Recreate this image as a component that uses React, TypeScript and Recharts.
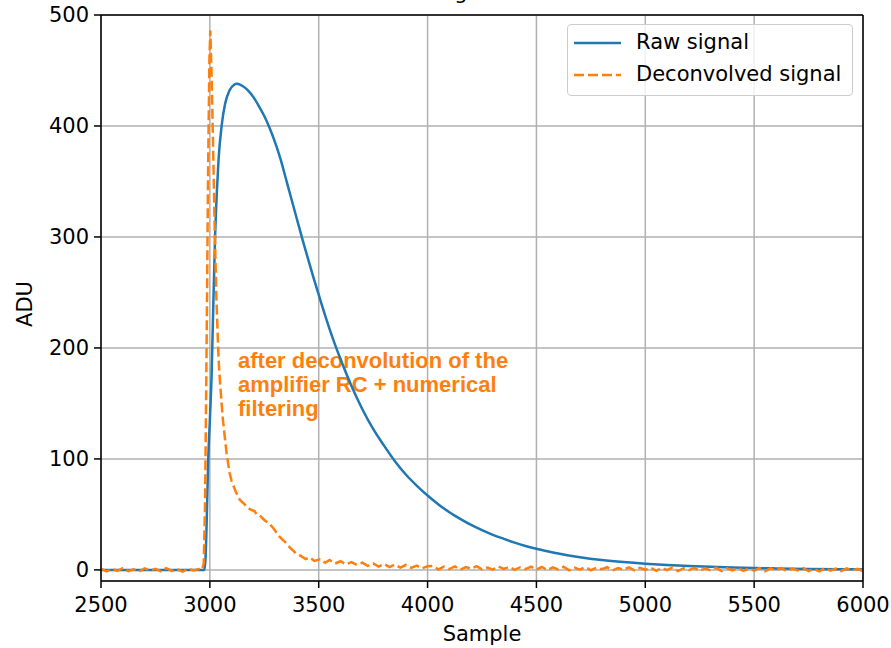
import React from 'react';
import { LineChart, Line, XAxis, YAxis, CartesianGrid, Legend, ReferenceLine } from 'recharts';

const xTicks = [2500, 3000, 3500, 4000, 4500, 5000, 5500, 6000];
const yTicks = [0, 100, 200, 300, 400, 500];

const rawSamples = [
  2500, 2975, 2980, 2985, 2992, 3000, 3008, 3016, 3024, 3032, 3040, 3054, 3070, 3090, 3110, 3125,
  3150, 3175, 3200, 3225, 3250, 3275, 3300, 3325, 3350, 3375, 3400, 3425, 3450, 3475, 3500,
  3525, 3550, 3575, 3600, 3650, 3700, 3750, 3800, 3850, 3900, 3950, 4000, 4050, 4100, 4150, 4200,
  4250, 4300, 4350, 4400, 4450, 4500, 4550, 4600, 4700, 4800, 4900, 5000, 5100, 5200, 5300, 5400, 5500,
  5600, 5750, 5900, 6000,
];
const rawValues = [
  0, 0, 10, 40, 96, 135, 175, 240, 300, 340, 370, 400, 420, 432, 437, 438,
  436, 432, 426, 418, 409, 398, 385, 370, 352, 334, 316, 298, 281, 264, 248,
  232, 217, 203, 190, 166, 145, 127, 112, 98, 86, 76, 67, 59, 52, 46, 40.5,
  35.8, 31.6, 28, 24.6, 21.6, 19, 16.8, 14.8, 11.5, 9, 7.1, 5.6, 4.4, 3.5, 2.75, 2.15, 1.7,
  1.35, 0.9, 0.6, 0.45,
];

const deconvSamples = [
  2500, 2525, 2550, 2575, 2600, 2625, 2650, 2675, 2700, 2725, 2750, 2775, 2800, 2825, 2850, 2875, 2900, 2925, 2950,
  2965, 2972, 2978, 2985, 2992, 2998, 3002, 3008, 3015, 3022,
  3030, 3040, 3047, 3060, 3077, 3090, 3100, 3120, 3138, 3160,
  3175, 3190, 3205, 3215, 3230, 3250, 3270, 3290, 3305, 3320,
  3335, 3352, 3368, 3385, 3400, 3414, 3440, 3460, 3480, 3506,
  3530, 3550, 3575, 3600, 3625, 3650, 3675, 3700, 3725, 3750,
  3775, 3800, 3825, 3850, 3875, 3900, 3925, 3950, 3975, 4000,
  4025, 4050, 4075, 4100, 4125, 4150, 4175, 4200, 4225, 4250, 4275, 4300, 4325, 4350, 4375, 4400, 4425, 4450, 4475, 4500,
  4525, 4550, 4575, 4600, 4625, 4650, 4675, 4700, 4725, 4750, 4775, 4800, 4825, 4850, 4875, 4900, 4925, 4950, 4975, 5000,
  5025, 5050, 5075, 5100, 5125, 5150, 5175, 5200, 5225, 5250, 5275, 5300, 5325, 5350, 5375, 5400, 5425, 5450, 5475, 5500,
  5525, 5550, 5575, 5600, 5625, 5650, 5675, 5700, 5725, 5750, 5775, 5800, 5825, 5850, 5875, 5900, 5925, 5950, 5975, 6000,
];
const deconvValues = [
  1.2, -1.4, 0.9, -0.8, 1.6, -1.1, 0.5, -1.5, 1.3, -0.6, 1.0, -1.3, 1.5, -0.9, 0.7, -1.6, 1.1, -0.4, 0.8,
  0.3, 6, 60, 200, 360, 460, 486, 445, 380, 310,
  245, 190, 168, 135, 105, 88, 80, 70, 63, 59,
  56, 54, 53, 50, 49, 45, 42, 38, 34, 30,
  27, 24, 20, 17, 14, 13, 9.8, 11.2, 8.1, 9.6,
  6.4, 8.9, 5.7, 7.8, 5.0, 7.1, 4.6, 6.5, 3.6, 5.9,
  3.0, 5.4, 2.6, 4.9, 2.0, 4.4, 1.8, 3.9, 1.4, 3.3,
  3.5, 0.4, 2.9, 0.8, 3.2, 0.2, 2.6, 1.1, 3.4, 0.5, 2.2, 0.3, 3.1, 0.9, 2.7, 0.1, 2.4, 0.6, 2.9, 0.3,
  2.6, -0.2, 2.3, 0.5, 2.8, -0.4, 2.0, 0.3, 2.5, -0.3, 1.9, 0.6, 2.4, -0.5, 1.7, 0.2, 2.2, -0.4, 1.8, 0.1,
  2.1, -0.9, 1.8, -0.3, 2.2, -1.0, 1.5, -0.2, 1.9, -0.8, 1.3, -0.5, 2.0, -1.1, 1.4, -0.4, 1.7, -0.9, 1.2, -0.6,
  1.6, -1.2, 1.3, -0.6, 1.8, -1.3, 1.1, -0.4, 1.5, -1.0, 0.9, -1.4, 1.6, -0.7, 1.2, -1.1, 1.4, -0.5, 1.0, -1.2,
];

const seriesNames = ['Raw signal', 'Deconvolved signal'];
const seriesColors = ['#1f77b4', '#ff7f0e'];
const annotationLines = ['after deconvolution of the', 'amplifier RC + numerical', 'filtering'];
const titleText = 'Signal';

const rawData = rawSamples.map((x, i) => ({ x, y: rawValues[i] }));
const deconvData = deconvSamples.map((x, i) => ({ x, y: deconvValues[i] }));

const FONT = '"DejaVu Sans", sans-serif';
const FS = 21;
const DASH = '10 4';

function LegendBox() {
  return (
    <div
      style={{
        width: 286,
        height: 72,
        boxSizing: 'border-box',
        border: '1px solid #cccccc',
        borderRadius: 4,
        background: 'rgba(255,255,255,0.8)',
        position: 'relative',
        fontFamily: FONT,
        fontSize: FS,
        color: '#000',
      }}
    >
      <svg width={60} height={70} style={{ position: 'absolute', left: 0, top: 0 }}>
        <line x1={6} x2={53} y1={18} y2={18} stroke={seriesColors[0]} strokeWidth={2.5} />
        <line x1={6} x2={53} y1={50} y2={50} stroke={seriesColors[1]} strokeWidth={2.5} strokeDasharray={DASH} />
      </svg>
      <div style={{ position: 'absolute', left: 68, top: 5, lineHeight: '25px', whiteSpace: 'nowrap' }}>{seriesNames[0]}</div>
      <div style={{ position: 'absolute', left: 68, top: 37, lineHeight: '25px', whiteSpace: 'nowrap' }}>{seriesNames[1]}</div>
    </div>
  );
}

export default function App() {
  return (
    <div style={{ position: 'absolute', left: 0, top: 0, width: 891, height: 648, background: '#fff' }}>
      <LineChart width={891} height={648} margin={{ top: 15, right: 28, bottom: 0, left: 0 }}>
        <CartesianGrid stroke="#b0b0b0" strokeWidth={1.5} />
        <XAxis
          dataKey="x"
          type="number"
          domain={[2500, 6000]}
          ticks={xTicks}
          interval={0}
          allowDataOverflow
          height={67}
          tickSize={7}
          tickMargin={9}
          axisLine={{ stroke: '#000', strokeWidth: 1.5 }}
          tickLine={{ stroke: '#000', strokeWidth: 1.5 }}
          tick={{ fill: '#000', fontSize: FS, fontFamily: FONT }}
        />
        <YAxis
          type="number"
          domain={[-10, 500]}
          ticks={yTicks}
          interval={0}
          allowDataOverflow
          width={101}
          tickSize={7}
          tickMargin={5}
          axisLine={{ stroke: '#000', strokeWidth: 1.5 }}
          tickLine={{ stroke: '#000', strokeWidth: 1.5 }}
          tick={{ fill: '#000', fontSize: FS, fontFamily: FONT }}
        />
        <Line
          data={rawData}
          dataKey="y"
          name={seriesNames[0]}
          type="monotone"
          stroke={seriesColors[0]}
          strokeWidth={2.5}
          dot={false}
          isAnimationActive={false}
        />
        <Line
          data={deconvData}
          dataKey="y"
          name={seriesNames[1]}
          type="linear"
          stroke={seriesColors[1]}
          strokeWidth={2.5}
          strokeDasharray={DASH}
          dot={false}
          isAnimationActive={false}
        />
        <ReferenceLine y={500} stroke="#000" strokeWidth={1.5} />
        <ReferenceLine x={6000} stroke="#000" strokeWidth={1.5} />
        <Legend
          content={() => <LegendBox />}
          layout="horizontal"
          verticalAlign="middle"
          align="center"
          wrapperStyle={{ position: 'absolute', left: 567, top: 24, width: 286, height: 72 }}
        />
        <text x={482} y={641} textAnchor="middle" fontFamily={FONT} fontSize={FS} fill="#000">Sample</text>
        <text x={32} y={304} textAnchor="middle" fontFamily={FONT} fontSize={FS} fill="#000" transform="rotate(-90 32 304)">ADU</text>
        <text x={435} y={-1} fontFamily={FONT} fontSize={FS} fill="#000">{titleText}</text>
        <text fontFamily='"Liberation Sans Narrow", sans-serif' fontWeight="bold" fontSize={22} fill="#ff7f0e">
          {annotationLines.map((s, i) => (
            <tspan key={i} x={238} y={368 + i * 24}>{s}</tspan>
          ))}
        </text>
      </LineChart>
    </div>
  );
}
